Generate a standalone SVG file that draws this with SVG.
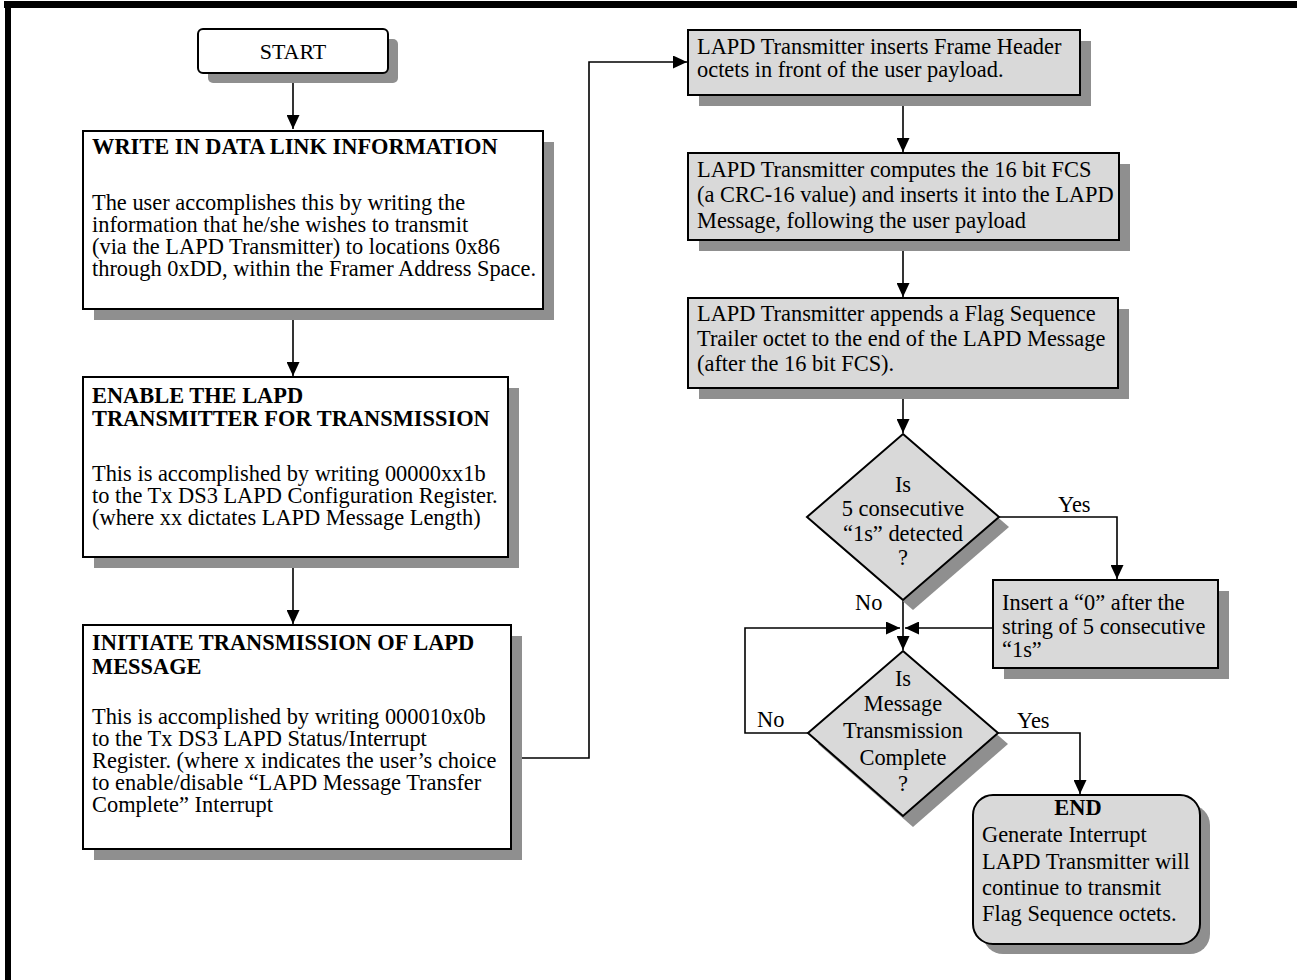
<svg xmlns="http://www.w3.org/2000/svg" width="1297" height="980" viewBox="0 0 1297 980">
<style>
text{font-family:"Liberation Serif","Times New Roman",serif;font-size:22.4px;fill:#000}
.b{font-weight:bold}
.c{text-anchor:middle}
.box{fill:#fff;stroke:#000;stroke-width:2}
.gbox{fill:#d9d9d9;stroke:#000;stroke-width:2}
.sh{fill:#8f8f8f}
.ln{fill:none;stroke:#000;stroke-width:1.6}
</style>
<defs>
<marker id="ah" markerUnits="userSpaceOnUse" markerWidth="15" markerHeight="13" refX="14" refY="6.5" orient="auto">
<path d="M0,0 L14,6.5 L0,13 z" fill="#000"/>
</marker>
</defs>
<rect x="0" y="0" width="1297" height="980" fill="#fff"/>
<rect x="4" y="1" width="1293" height="7" fill="#000"/>
<rect x="5" y="1" width="6" height="979" fill="#000"/>

<g id="connectors">
<path class="ln" d="M293,73 V129" marker-end="url(#ah)"/>
<path class="ln" d="M293,309 V376" marker-end="url(#ah)"/>
<path class="ln" d="M293,557 V624" marker-end="url(#ah)"/>
<path class="ln" d="M511,758 H589 V62 H687" marker-end="url(#ah)"/>
<path class="ln" d="M903,95 V152" marker-end="url(#ah)"/>
<path class="ln" d="M903,240 V297" marker-end="url(#ah)"/>
<path class="ln" d="M903,388 V433" marker-end="url(#ah)"/>
<path class="ln" d="M999,517 H1117 V579" marker-end="url(#ah)"/>
<path class="ln" d="M903,600 V650" marker-end="url(#ah)"/>
<path class="ln" d="M993,628 H905" marker-end="url(#ah)"/>
<path class="ln" d="M808,733 H745 V628 H900" marker-end="url(#ah)"/>
<path class="ln" d="M998,733 H1080 V794" marker-end="url(#ah)"/>
<text x="1058" y="512">Yes</text>
<text x="855" y="610">No</text>
<text x="757" y="727">No</text>
<text x="1017" y="728">Yes</text>
</g>

<g id="start">
<rect class="sh" x="208" y="39" width="190" height="44" rx="5"/>
<rect class="box" x="198" y="29" width="190" height="44" rx="5"/>
<text class="c" x="293" y="59" style="font-size:22px">START</text>
</g>

<g id="write">
<rect class="sh" x="94" y="142" width="460" height="178"/>
<rect class="box" x="83" y="131" width="460" height="178"/>
<text class="b" x="92" y="154">WRITE IN DATA LINK INFORMATION</text>
<text x="92" y="210">The user accomplishes this by writing the</text>
<text x="92" y="232">information that he/she wishes to transmit</text>
<text x="92" y="254">(via the LAPD Transmitter) to locations 0x86</text>
<text x="92" y="276">through 0xDD, within the Framer Address Space.</text>
</g>

<g id="enable">
<rect class="sh" x="94" y="388" width="425" height="180"/>
<rect class="box" x="83" y="377" width="425" height="180"/>
<text class="b" x="92" y="403">ENABLE THE LAPD</text>
<text class="b" x="92" y="426">TRANSMITTER FOR TRANSMISSION</text>
<text x="92" y="481">This is accomplished by writing 00000xx1b</text>
<text x="92" y="503">to the Tx DS3 LAPD Configuration Register.</text>
<text x="92" y="525">(where xx dictates LAPD Message Length)</text>
</g>

<g id="initiate">
<rect class="sh" x="94" y="636" width="428" height="224"/>
<rect class="box" x="83" y="625" width="428" height="224"/>
<text class="b" x="92" y="650">INITIATE TRANSMISSION OF LAPD</text>
<text class="b" x="92" y="674">MESSAGE</text>
<text x="92" y="724">This is accomplished by writing 000010x0b</text>
<text x="92" y="746">to the Tx DS3 LAPD Status/Interrupt</text>
<text x="92" y="768">Register. (where x indicates the user’s choice</text>
<text x="92" y="790"> to enable/disable “LAPD Message Transfer</text>
<text x="92" y="812">Complete” Interrupt</text>
</g>

<g id="header">
<rect class="sh" x="699" y="41" width="392" height="65"/>
<rect class="gbox" x="688" y="30" width="392" height="65"/>
<text x="697" y="54">LAPD Transmitter inserts Frame Header</text>
<text x="697" y="77">octets in front of the user payload.</text>
</g>

<g id="fcs">
<rect class="sh" x="699" y="164" width="431" height="87"/>
<rect class="gbox" x="688" y="153" width="431" height="87"/>
<text x="697" y="177">LAPD Transmitter computes the 16 bit FCS</text>
<text x="697" y="202">(a CRC-16 value) and inserts it into the LAPD</text>
<text x="697" y="228">Message, following the user payload</text>
</g>

<g id="trailer">
<rect class="sh" x="699" y="309" width="430" height="90"/>
<rect class="gbox" x="688" y="298" width="430" height="90"/>
<text x="697" y="321">LAPD Transmitter appends  a Flag Sequence</text>
<text x="697" y="346">Trailer octet to the end of the LAPD Message</text>
<text x="697" y="371">(after the 16 bit FCS).</text>
</g>

<g id="detect">
<polygon class="sh" points="913,444 1009,527 913,610 817,527"/>
<polygon class="gbox" points="903,434 999,517 903,600 807,517"/>
<text class="c" x="903" y="492">Is</text>
<text class="c" x="903" y="516">5 consecutive</text>
<text class="c" x="903" y="541">“1s” detected</text>
<text class="c" x="903" y="565">?</text>
</g>

<g id="insert">
<rect class="sh" x="1004" y="591" width="225" height="88"/>
<rect class="gbox" x="993" y="580" width="225" height="88"/>
<text x="1002" y="610">Insert a “0” after the</text>
<text x="1002" y="634">string of 5 consecutive</text>
<text x="1002" y="657">“1s”</text>
</g>

<g id="complete">
<polygon class="sh" points="913,661 1008,744 913,827 818,744"/>
<polygon class="gbox" points="903,651 998,733 903,816 808,733"/>
<text class="c" x="903" y="686">Is</text>
<text class="c" x="903" y="711">Message</text>
<text class="c" x="903" y="738">Transmission</text>
<text class="c" x="903" y="765">Complete</text>
<text class="c" x="903" y="791">?</text>
</g>

<g id="end">
<rect class="sh" x="983" y="805" width="227" height="149" rx="20"/>
<rect class="gbox" x="973" y="795" width="227" height="149" rx="20"/>
<text class="b c" x="1078" y="815">END</text>
<text x="982" y="842">Generate Interrupt</text>
<text x="982" y="869">LAPD Transmitter will</text>
<text x="982" y="895">continue to transmit</text>
<text x="982" y="921">Flag Sequence octets.</text>
</g>
</svg>
